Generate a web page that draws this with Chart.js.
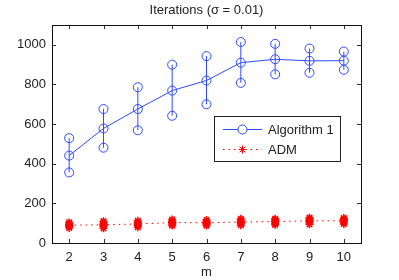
<!DOCTYPE html>
<html>
<head>
<meta charset="utf-8">
<script src="https://cdn.jsdelivr.net/npm/chart.js@4/dist/chart.umd.min.js"></script>
<style>
  html, body { margin: 0; padding: 0; background: #fff; }
  #wrap { width: 399px; height: 280px; }
</style>
</head>
<body>
<div id="wrap"><canvas id="iterChart" width="399" height="280"></canvas></div>
<script>
    "use strict";

    // Data
    var mValues = [2, 3, 4, 5, 6, 7, 8, 9, 10];
    var alg1Mean = [441, 578, 676, 769, 820, 910, 927, 919, 920];
    var alg1Upper = [529, 676, 786, 900, 943, 1014, 1005, 981, 966];
    var alg1Lower = [356, 481, 569, 642, 700, 808, 851, 859, 874];
    var admMean = [90, 92, 96, 103, 102, 106, 108, 112, 112];
    var admRuns = [
        [76, 84, 90, 96, 104],
        [74, 84, 92, 100, 110],
        [80, 88, 96, 104, 112],
        [88, 96, 103, 110, 118],
        [88, 96, 102, 108, 116],
        [90, 98, 106, 114, 122],
        [92, 100, 108, 116, 122],
        [94, 104, 112, 120, 128],
        [96, 104, 112, 120, 126]
    ];
    var yTicks = [0, 200, 400, 600, 800, 1000];

    var BLUE = "rgb(45,75,255)";
    var RED = "rgb(255,0,0)";
    var FONT = "'Liberation Sans', Arial, sans-serif";
    var TEXT = "#222";

    var toPts = function (ys) {
        return mValues.map(function (m, i) { return { x: m, y: ys[i] }; });
    };

    // error bars: lower -> upper segments split by gaps
    var errPts = [];
    mValues.forEach(function (m, i) {
        errPts.push({ x: m, y: alg1Lower[i] });
        errPts.push({ x: m, y: alg1Upper[i] });
        errPts.push({ x: m, y: null });
    });

    var runPts = [];
    mValues.forEach(function (m, i) {
        admRuns[i].forEach(function (v) { runPts.push({ x: m, y: v }); });
    });

    // box, inward ticks, titles, legend
    var matlabAxes = {
        id: "matlabAxes",
        afterDraw: function (chart) {
            var ctx = chart.ctx, a = chart.chartArea;
            var sx = chart.scales.x, sy = chart.scales.y;
            ctx.save();
            ctx.strokeStyle = "#333";
            ctx.lineWidth = 1;
            ctx.beginPath();
            mValues.forEach(function (m) {
                var px = Math.round(sx.getPixelForValue(m)) + 0.5;
                ctx.moveTo(px, a.bottom); ctx.lineTo(px, a.bottom - 4);
                ctx.moveTo(px, a.top); ctx.lineTo(px, a.top + 4);
            });
            yTicks.forEach(function (v) {
                var py = Math.round(sy.getPixelForValue(v)) + 0.5;
                ctx.moveTo(a.left, py); ctx.lineTo(a.left + 4, py);
                ctx.moveTo(a.right, py); ctx.lineTo(a.right - 4, py);
            });
            ctx.stroke();
            ctx.strokeStyle = "#111";
            ctx.strokeRect(Math.round(a.left) + 0.5, Math.round(a.top) + 0.5,
                Math.round(a.right - a.left), Math.round(a.bottom - a.top));

            // titles
            ctx.fillStyle = TEXT;
            ctx.font = "13px " + FONT;
            ctx.textAlign = "center";
            ctx.textBaseline = "middle";
            ctx.fillText("Iterations (\u03c3 = 0.01)", (a.left + a.right) / 2, 10);
            ctx.fillText("m", (a.left + a.right) / 2, 272);

            // legend
            var lx = a.right - 147, ly = a.top + 91, lw = 126, lh = 45;
            ctx.fillStyle = "#fff";
            ctx.fillRect(lx, ly, lw, lh);
            ctx.strokeStyle = "#222";
            ctx.strokeRect(lx + 0.5, ly + 0.5, lw, lh);

            var r1 = ly + 13, r2 = ly + 33;
            ctx.strokeStyle = BLUE;
            ctx.beginPath();
            ctx.moveTo(lx + 9, r1 + 0.5); ctx.lineTo(lx + 48, r1 + 0.5);
            ctx.stroke();
            ctx.fillStyle = "#fff";
            ctx.beginPath();
            ctx.arc(lx + 28.5, r1 + 0.5, 4.5, 0, Math.PI * 2);
            ctx.fill(); ctx.stroke();

            ctx.strokeStyle = RED;
            ctx.setLineDash([1.5, 4]);
            ctx.beginPath();
            ctx.moveTo(lx + 9, r2 + 0.5); ctx.lineTo(lx + 48, r2 + 0.5);
            ctx.stroke();
            ctx.setLineDash([]);
            ctx.fillStyle = RED;
            Chart.helpers.drawPoint(ctx, { pointStyle: "star", radius: 4, borderWidth: 1.5, rotation: 0 }, lx + 28.5, r2 + 0.5);

            ctx.fillStyle = TEXT;
            ctx.textAlign = "left";
            ctx.fillText("Algorithm 1", lx + 54, r1 + 1);
            ctx.fillText("ADM", lx + 54, r2 + 1);
            ctx.restore();
        }
    };

    var ctx1 = document.getElementById("iterChart").getContext("2d");
    var myChart1 = new Chart(ctx1, {
        type: "scatter",
        data: {
            datasets: [{
                label: "Algorithm 1",
                data: toPts(alg1Mean),
                showLine: true,
                borderColor: BLUE,
                backgroundColor: "rgba(0,0,0,0)",
                borderWidth: 1,
                pointRadius: 4.5,
                pointBorderWidth: 1
            },
            {
                label: "err",
                data: errPts,
                showLine: true,
                spanGaps: false,
                borderColor: BLUE,
                backgroundColor: "rgba(0,0,0,0)",
                borderWidth: 1,
                pointRadius: 4.5,
                pointBorderWidth: 1
            },
            {
                label: "ADM",
                data: toPts(admMean),
                showLine: true,
                borderColor: RED,
                backgroundColor: RED,
                borderWidth: 1,
                borderDash: [1.5, 4],
                pointStyle: "star",
                pointRadius: 4,
                pointBorderWidth: 1.5
            },
            {
                label: "ADM runs",
                data: runPts,
                showLine: false,
                borderColor: RED,
                backgroundColor: RED,
                pointStyle: "star",
                pointRadius: 4,
                pointBorderWidth: 1.5
            }
            ]
        },
        options: {
            responsive: false,
            animation: false,
            layout: { padding: { top: 25, right: 38, left: 0, bottom: 0 } },
            plugins: {
                legend: { display: false },
                title: { display: false },
                tooltip: { enabled: false }
            },
            scales: {
                x: {
                    type: "linear",
                    min: 1.5,
                    max: 10.5,
                    afterBuildTicks: function (s) { s.ticks = mValues.map(function (v) { return { value: v }; }); },
                    afterFit: function (s) { s.height = 37; },
                    grid: { display: false, drawTicks: false },
                    border: { display: false },
                    ticks: { color: TEXT, padding: 7, maxRotation: 0, font: { family: FONT, size: 13 } }
                },
                y: {
                    min: 0,
                    max: 1100,
                    afterBuildTicks: function (s) { s.ticks = yTicks.map(function (v) { return { value: v }; }); },
                    afterFit: function (s) { s.width = 52; },
                    grid: { display: false, drawTicks: false },
                    border: { display: false },
                    ticks: {
                        color: TEXT, padding: 6, font: { family: FONT, size: 13 },
                        callback: function (v) { return String(v); }
                    }
                }
            }
        },
        plugins: [matlabAxes]
    });
</script>
</body>
</html>
